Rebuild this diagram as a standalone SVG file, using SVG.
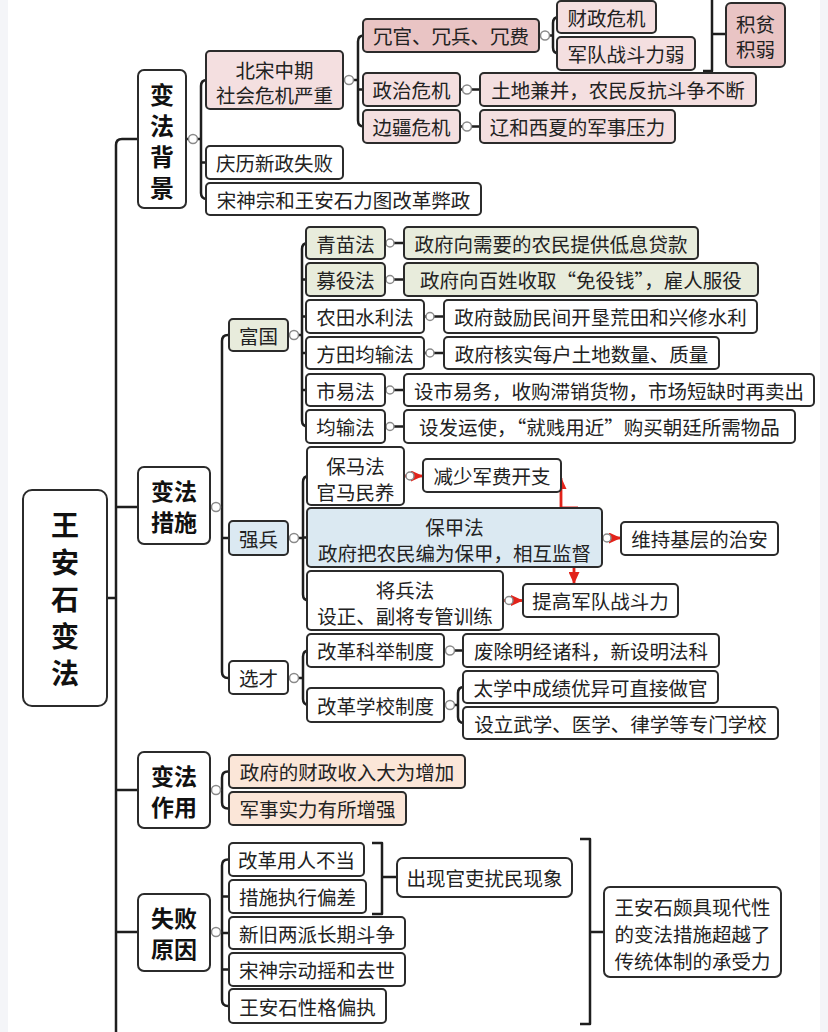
<svg xmlns="http://www.w3.org/2000/svg" width="828" height="1032" viewBox="0 0 828 1032">
<defs>
<style>
.b{stroke:#2b2b2b;stroke-width:2;fill:#fff}
.pk{fill:#f4dfe0}.dp{fill:#e9c4c4}.gr{fill:#e8ecdc}.bl{fill:#dbe9f2}.pc{fill:#fbe6d8}
.t{font-family:"Noto Sans CJK SC","Noto Sans",sans-serif;font-size:19.5px;fill:#222;text-anchor:middle;dominant-baseline:central}
.h{font-family:"Noto Sans CJK SC","Noto Sans",sans-serif;font-size:24px;font-weight:700;fill:#111;text-anchor:middle;dominant-baseline:central}
.h2{font-size:23px}
.r{font-size:28px}
.ln{fill:none;stroke:#1e1e1e;stroke-width:2.5;stroke-linejoin:round}
.c{fill:#fff;stroke:#8a8a8a;stroke-width:1.5}
.ra{fill:none;stroke:#e2231a;stroke-width:2.8}
</style>
<marker id="ah" markerWidth="12" markerHeight="11" refX="11" refY="5.5" orient="auto" markerUnits="userSpaceOnUse">
<path d="M0,0 L12,5.5 L0,11 Z" fill="#e2231a"/>
</marker>
</defs>
<rect x="0" y="0" width="828" height="1032" fill="#fff"/>
<rect x="0" y="0" width="8" height="1032" fill="#f4f5f8"/>
<rect x="820" y="0" width="8" height="1032" fill="#f4f5f8"/>

<g id="connectors">
<path class="ln" d="M138 139 H122 Q116 139 116 145 V1032 M107 598 H116 M116 507 H138 M116 790 H138 M116 932 H138"/>
<path class="ln" d="M186 139 H201"/>
<path class="ln" d="M206 80 H207 Q201 80 201 86 V193 Q201 199 207 199 H206 M201 162.5 H206"/>
<path class="ln" d="M343 80 H358 M363 35.5 H364 Q358 35.5 358 41.5 V120.5 Q358 126.5 364 126.5 H363 M358 89.5 H363"/>
<path class="ln" d="M539 35.5 H553 M557 17 H559 Q553 17 553 23 V47.5 Q553 53.5 559 53.5 H557"/>
<path class="ln" d="M460 89.5 H480 M460 126.5 H480"/>
<path class="ln" d="M703 71 H712 V-4 M712 34 H725"/>
<path class="ln" d="M210 507 H222 M229 335 H228 Q222 335 222 341 V672 Q222 678 228 678 H229 M222 538 H229"/>
<path class="ln" d="M288 335 H302 M306 243 H308 Q302 243 302 249 V420.5 Q302 426.5 308 426.5 H306 M302 279.5 H306 M302 316.5 H306 M302 353 H306 M302 390 H306"/>
<path class="ln" d="M385 243 H404 M385 279.5 H404 M424 316.5 H444 M424 353 H444 M385 390 H404 M385 426.5 H404"/>
<path class="ln" d="M288 538 H303 M307 476 H309 Q303 476 303 482 V594.5 Q303 600.5 309 600.5 H307 M303 537.5 H307"/>
<path class="ln" d="M288 678 H303 M307 650.5 H309 Q303 650.5 303 656.5 V699 Q303 705 309 705 H307"/>
<path class="ln" d="M444 650.5 H463 M444 705 H458 M463 687 H464 Q458 687 458 693 V717 Q458 723 464 723 H463"/>
<path class="ln" d="M210 790 H222 M229 771.5 H228 Q222 771.5 222 777.5 V802.5 Q222 808.5 228 808.5 H229"/>
<path class="ln" d="M210 932 H222 M229 859.5 H228 Q222 859.5 222 865.5 V1000 Q222 1006 228 1006 H229 M222 896.5 H229 M222 933 H229 M222 969.5 H229"/>
<path class="ln" d="M372 843 H382 V914 H372 M382 877 H397"/>
<path class="ln" d="M580 839 H590 V1024 H580 M590 932 H604"/>
<path class="ra" d="M404 476 H422" marker-end="url(#ah)"/>
<path class="ra" d="M578 508 H561 V478" marker-end="url(#ah)"/>
<path class="ra" d="M602 538 H620" marker-end="url(#ah)"/>
<path class="ra" d="M574 567 V583" marker-end="url(#ah)"/>
<path class="ra" d="M503 600.5 H522" marker-end="url(#ah)"/>
<circle class="c" cx="193" cy="139" r="4.5"/>
<circle class="c" cx="349" cy="80" r="4.5"/>
<circle class="c" cx="545" cy="35.5" r="4.5"/>
<circle class="c" cx="467" cy="89.5" r="4.5"/>
<circle class="c" cx="467" cy="126.5" r="4.5"/>
<circle class="c" cx="216" cy="507" r="4.5"/>
<circle class="c" cx="294" cy="335" r="4.5"/>
<circle class="c" cx="390" cy="243" r="4"/>
<circle class="c" cx="390" cy="279.5" r="4"/>
<circle class="c" cx="430" cy="316.5" r="4"/>
<circle class="c" cx="430" cy="353" r="4"/>
<circle class="c" cx="390" cy="390" r="4"/>
<circle class="c" cx="390" cy="426.5" r="4"/>
<circle class="c" cx="294" cy="538" r="4.5"/>
<circle class="c" cx="410" cy="476" r="4"/>
<circle class="c" cx="607" cy="538" r="4"/>
<circle class="c" cx="509" cy="600.5" r="4"/>
<circle class="c" cx="294" cy="678" r="4.5"/>
<circle class="c" cx="450" cy="650.5" r="4.5"/>
<circle class="c" cx="450" cy="705" r="4.5"/>
<circle class="c" cx="216" cy="790" r="4.5"/>
<circle class="c" cx="216" cy="932" r="4.5"/>
</g>

<g id="root"><rect class="b" x="23" y="490" width="84" height="216" rx="9"/>
<text class="h r"><tspan x="65" y="524">王</tspan><tspan x="65" y="561">安</tspan><tspan x="65" y="598">石</tspan><tspan x="65" y="635">变</tspan><tspan x="65" y="672">法</tspan></text></g>

<g id="n-bg"><rect class="b" x="138" y="70" width="48" height="138" rx="6"/>
<text class="h"><tspan x="162" y="92.5">变</tspan><tspan x="162" y="123.5">法</tspan><tspan x="162" y="154.5">背</tspan><tspan x="162" y="185.5">景</tspan></text></g>
<g id="n-bs"><rect class="b pk" x="206" y="51" width="137" height="58" rx="4"/>
<text class="t"><tspan x="274.5" y="68.5">北宋中期</tspan><tspan x="274.5" y="94">社会危机严重</tspan></text></g>
<g id="n-qs"><rect class="b" x="206" y="146" width="137" height="33" rx="4"/><text class="t" x="274.5" y="162.5">庆历新政失败</text></g>
<g id="n-ss"><rect class="b" x="206" y="183" width="275" height="32" rx="4"/><text class="t" x="343.5" y="199">宋神宗和王安石力图改革弊政</text></g>
<g id="n-rg"><rect class="b dp" x="363" y="19" width="176" height="33" rx="4"/><text class="t" x="451" y="35.5">冗官、冗兵、冗费</text></g>
<g id="n-zz"><rect class="b pk" x="363" y="73" width="97" height="33" rx="4"/><text class="t" x="411.5" y="89.5">政治危机</text></g>
<g id="n-bj"><rect class="b pk" x="363" y="110" width="97" height="33" rx="4"/><text class="t" x="411.5" y="126.5">边疆危机</text></g>
<g id="n-cz"><rect class="b pk" x="557" y="1" width="99" height="32" rx="4"/><text class="t" x="606.5" y="17">财政危机</text></g>
<g id="n-jd"><rect class="b pk" x="557" y="37" width="138" height="33" rx="4"/><text class="t" x="626" y="53.5">军队战斗力弱</text></g>
<g id="n-td"><rect class="b pk" x="480" y="73" width="276" height="33" rx="4"/><text class="t" x="618" y="89.5">土地兼并，农民反抗斗争不断</text></g>
<g id="n-lx"><rect class="b pk" x="480" y="110" width="195" height="33" rx="4"/><text class="t" x="577.5" y="126.5">辽和西夏的军事压力</text></g>
<g id="n-jp"><rect class="b dp" x="726" y="3" width="59" height="64" rx="5"/>
<text class="t"><tspan x="755.5" y="22.5">积贫</tspan><tspan x="755.5" y="48">积弱</tspan></text></g>

<g id="n-cs"><rect class="b" x="138" y="467" width="72" height="77" rx="6"/>
<text class="h h2"><tspan x="174" y="490">变法</tspan><tspan x="174" y="521">措施</tspan></text></g>
<g id="n-fg"><rect class="b gr" x="229" y="319" width="59" height="32" rx="4"/><text class="t" x="258.5" y="335">富国</text></g>
<g id="n-qm"><rect class="b gr" x="306" y="227" width="79" height="32" rx="4"/><text class="t" x="345.5" y="243">青苗法</text></g>
<g id="n-my"><rect class="b gr" x="306" y="263" width="79" height="33" rx="4"/><text class="t" x="345.5" y="279.5">募役法</text></g>
<g id="n-nt"><rect class="b" x="306" y="300" width="118" height="33" rx="4"/><text class="t" x="365" y="316.5">农田水利法</text></g>
<g id="n-ft"><rect class="b" x="306" y="337" width="118" height="32" rx="4"/><text class="t" x="365" y="353">方田均输法</text></g>
<g id="n-sy"><rect class="b" x="306" y="374" width="79" height="32" rx="4"/><text class="t" x="345.5" y="390">市易法</text></g>
<g id="n-js"><rect class="b" x="306" y="410" width="79" height="33" rx="4"/><text class="t" x="345.5" y="426.5">均输法</text></g>
<g id="d-qm"><rect class="b gr" x="404" y="227" width="294" height="32" rx="4"/><text class="t" x="551" y="243">政府向需要的农民提供低息贷款</text></g>
<g id="d-my"><rect class="b gr" x="404" y="263" width="354" height="33" rx="4"/><text class="t" x="581" y="279.5">政府向百姓收取“免役钱”，雇人服役</text></g>
<g id="d-nt"><rect class="b" x="444" y="300" width="313" height="33" rx="4"/><text class="t" x="600.5" y="316.5">政府鼓励民间开垦荒田和兴修水利</text></g>
<g id="d-ft"><rect class="b" x="444" y="337" width="275" height="32" rx="4"/><text class="t" x="581.5" y="353">政府核实每户土地数量、质量</text></g>
<g id="d-sy"><rect class="b" x="404" y="374" width="410" height="32" rx="4"/><text class="t" x="609" y="390">设市易务，收购滞销货物，市场短缺时再卖出</text></g>
<g id="d-js"><rect class="b" x="404" y="410" width="391" height="33" rx="4"/><text class="t" x="599.5" y="426.5">设发运使，“就贱用近”购买朝廷所需物品</text></g>

<g id="n-qb"><rect class="b bl" x="229" y="521" width="59" height="34" rx="4"/><text class="t" x="258.5" y="538">强兵</text></g>
<g id="n-bm"><rect class="b" x="307" y="447" width="97" height="58" rx="4"/>
<text class="t"><tspan x="355.5" y="465">保马法</tspan><tspan x="355.5" y="491">官马民养</tspan></text></g>
<g id="n-bjf"><rect class="b bl" x="307" y="508" width="295" height="59" rx="4"/>
<text class="t"><tspan x="454.5" y="526">保甲法</tspan><tspan x="454.5" y="552">政府把农民编为保甲，相互监督</tspan></text></g>
<g id="n-jb"><rect class="b" x="307" y="571" width="196" height="59" rx="4"/>
<text class="t"><tspan x="405" y="589">将兵法</tspan><tspan x="405" y="615">设正、副将专管训练</tspan></text></g>
<g id="d-js2"><rect class="b" x="423" y="459" width="138" height="33" rx="4"/><text class="t" x="492" y="475.5">减少军费开支</text></g>
<g id="d-wc"><rect class="b" x="621" y="522" width="157" height="33" rx="4"/><text class="t" x="699.5" y="538.5">维持基层的治安</text></g>
<g id="d-tg"><rect class="b" x="523" y="584" width="155" height="33" rx="4"/><text class="t" x="600.5" y="600.5">提高军队战斗力</text></g>

<g id="n-xc"><rect class="b" x="229" y="661" width="59" height="33" rx="4"/><text class="t" x="258.5" y="677.5">选才</text></g>
<g id="n-kj"><rect class="b" x="307" y="634" width="137" height="33" rx="4"/><text class="t" x="375.5" y="650.5">改革科举制度</text></g>
<g id="n-xx"><rect class="b" x="307" y="688" width="137" height="34" rx="4"/><text class="t" x="375.5" y="705">改革学校制度</text></g>
<g id="d-kj"><rect class="b" x="463" y="634" width="256" height="33" rx="4"/><text class="t" x="591" y="650.5">废除明经诸科，新设明法科</text></g>
<g id="d-tx"><rect class="b" x="463" y="671" width="255" height="32" rx="4"/><text class="t" x="590.5" y="687">太学中成绩优异可直接做官</text></g>
<g id="d-sl"><rect class="b" x="463" y="707" width="315" height="32" rx="4"/><text class="t" x="620.5" y="723">设立武学、医学、律学等专门学校</text></g>

<g id="n-zy"><rect class="b" x="138" y="752" width="72" height="76" rx="6"/>
<text class="h h2"><tspan x="174" y="774.5">变法</tspan><tspan x="174" y="805.5">作用</tspan></text></g>
<g id="n-cz2"><rect class="b pc" x="229" y="755" width="236" height="33" rx="4"/><text class="t" x="347" y="771.5">政府的财政收入大为增加</text></g>
<g id="n-js3"><rect class="b pc" x="229" y="792" width="177" height="33" rx="4"/><text class="t" x="317.5" y="808.5">军事实力有所增强</text></g>

<g id="n-sb"><rect class="b" x="138" y="894" width="72" height="77" rx="6"/>
<text class="h h2"><tspan x="174" y="917">失败</tspan><tspan x="174" y="948">原因</tspan></text></g>
<g id="n-yr"><rect class="b" x="229" y="843" width="135" height="33" rx="4"/><text class="t" x="296.5" y="859.5">改革用人不当</text></g>
<g id="n-zx"><rect class="b" x="229" y="880" width="137" height="33" rx="4"/><text class="t" x="297.5" y="896.5">措施执行偏差</text></g>
<g id="n-xj"><rect class="b" x="229" y="917" width="176" height="32" rx="4"/><text class="t" x="317" y="933">新旧两派长期斗争</text></g>
<g id="n-sz"><rect class="b" x="229" y="953" width="176" height="33" rx="4"/><text class="t" x="317" y="969.5">宋神宗动摇和去世</text></g>
<g id="n-xg"><rect class="b" x="229" y="989" width="157" height="34" rx="4"/><text class="t" x="307.5" y="1006">王安石性格偏执</text></g>
<g id="n-gl"><rect class="b" x="397" y="858" width="175" height="39" rx="6"/><text class="t" x="484.5" y="877.5">出现官吏扰民现象</text></g>
<g id="n-xd"><rect class="b" x="604" y="887" width="177" height="90" rx="6"/>
<text class="t"><tspan x="692.5" y="906">王安石颇具现代性</tspan><tspan x="692.5" y="933">的变法措施超越了</tspan><tspan x="692.5" y="960">传统体制的承受力</tspan></text></g>
</svg>
